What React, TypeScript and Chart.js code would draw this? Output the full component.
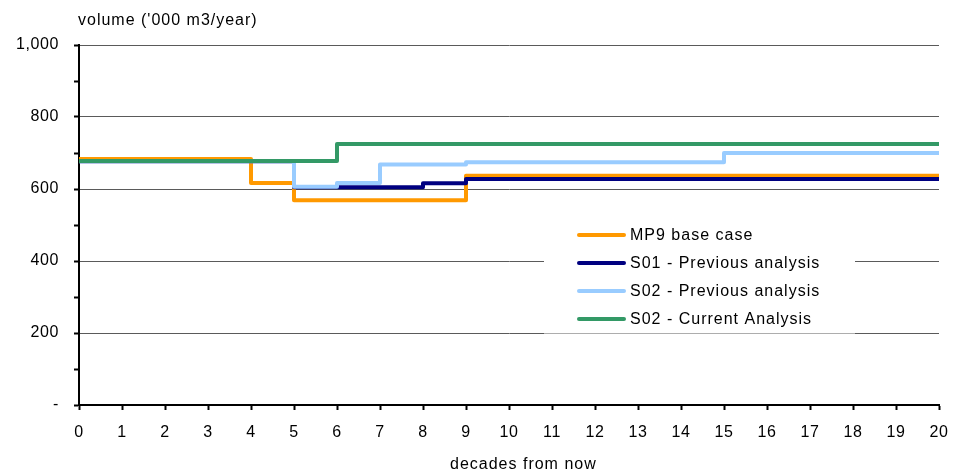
import React, { useEffect, useRef } from "react";
import { Chart, registerables } from "chart.js";

Chart.register(...registerables);

const decades = [0, 1, 2, 3, 4, 5, 6, 7, 8, 9, 10, 11, 12, 13, 14, 15, 16, 17, 18, 19, 20];
const seriesLabels = [
  "MP9 base case",
  "S01 - Previous analysis",
  "S02 - Previous analysis",
  "S02 - Current Analysis",
];
const mp9Base = [683, 683, 683, 683, 617, 569, 569, 569, 569, 637, 637, 637, 637, 637, 637, 637, 637, 637, 637, 637, 637];
const s01Prev = [677, 677, 677, 677, 677, 605, 605, 605, 616, 628, 628, 628, 628, 628, 628, 628, 628, 628, 628, 628, 628];
const s02Prev = [677, 677, 677, 677, 677, 606, 617, 668, 668, 674, 674, 674, 674, 674, 674, 700, 700, 700, 700, 700, 700];
const s02Curr = [678, 678, 678, 678, 678, 678, 725, 725, 725, 725, 725, 725, 725, 725, 725, 725, 725, 725, 725, 725, 725];
const seriesColors = ["#FF9900", "#000080", "#99CCFF", "#339966"];
const yTitle = "volume ('000 m3/year)";
const xTitle = "decades from now";

const FONT = "'Liberation Sans', Arial, sans-serif";

const spacingPlugin = {
  id: "spacing",
  beforeLayout(chart: any) {
    (chart.ctx as any).letterSpacing = "0.6px";
  },
  beforeDraw(chart: any) {
    (chart.ctx as any).letterSpacing = "0.6px";
  },
};

const overlayPlugin = {
  id: "overlay",
  afterDraw(chart: any) {
    const ctx = chart.ctx as CanvasRenderingContext2D;
    const area = chart.chartArea;
    ctx.save();
    (ctx as any).letterSpacing = "1px";
    // axis titles
    ctx.fillStyle = "#000";
    ctx.font = `16px ${FONT}`;
    ctx.textBaseline = "middle";
    ctx.textAlign = "left";
    ctx.fillText(yTitle, area.left - 1, 21);
    ctx.fillText(xTitle, 450, 465);

    // legend
    const bx = 544, by = 214, bw = 311, bh = 119;
    ctx.fillStyle = "#fff";
    ctx.fillRect(bx, by, bw, bh);
    ctx.fillStyle = "rgba(255,255,255,0.5)";
    ctx.fillRect(bx, by + bh, bw, 1);
    const ds = chart.data.datasets;
    ctx.textAlign = "left";
    for (let i = 0; i < ds.length; i++) {
      const y = 235 + i * 28;
      ctx.strokeStyle = ds[i].borderColor;
      ctx.lineWidth = 4;
      ctx.lineCap = "round";
      ctx.beginPath();
      ctx.moveTo(579, y);
      ctx.lineTo(624, y);
      ctx.stroke();
      ctx.fillStyle = "#000";
      ctx.font = `16px ${FONT}`;
      ctx.fillText(ds[i].label, 630, y + 1);
    }
    ctx.restore();
  },
};

export default function App() {
  const ref = useRef<HTMLCanvasElement>(null);
  useEffect(() => {
    document.body.style.margin = "0";
    const series = [mp9Base, s01Prev, s02Prev, s02Curr];
    const chart = new Chart(ref.current!, {
      type: "line",
      data: {
        labels: decades,
        datasets: series.map((vals, i) => ({
          label: seriesLabels[i],
          data: vals.map((v, j) => ({ x: decades[j], y: v })),
          borderColor: seriesColors[i],
          backgroundColor: seriesColors[i],
          borderWidth: 4,
          stepped: true,
          pointRadius: 0,
          borderJoinStyle: "round" as const,
          borderCapStyle: "round" as const,
          order: series.length - i,
          fill: false,
        })),
      },
      options: {
        responsive: false,
        animation: false,
        events: [],
        layout: { padding: { left: 0, right: 19, top: 45, bottom: 0 } },
        plugins: {
          legend: { display: false },
          title: { display: false },
          tooltip: { enabled: false },
        },
        font: { family: FONT },
        scales: {
          x: {
            type: "linear",
            min: 0,
            max: 20,
            afterFit: (s: any) => {
              s.height = 70;
              s.paddingLeft = 0;
              s.paddingRight = 0;
            },
            ticks: {
              stepSize: 1,
              autoSkip: false,
              color: "#000",
              padding: 13,
              maxRotation: 0,
              font: { size: 16, family: FONT },
            },
            grid: {
              drawOnChartArea: false,
              drawTicks: true,
              tickLength: 5,
              tickColor: "#000",
              tickWidth: 2,
              color: "#000",
            },
            border: { display: true, color: "#000", width: 2 },
          },
          y: {
            type: "linear",
            min: 0,
            max: 1000,
            afterFit: (s: any) => {
              s.width = 79;
              s.paddingTop = 0;
              s.paddingBottom = 0;
            },
            ticks: {
              stepSize: 100,
              autoSkip: false,
              color: "#000",
              padding: 15,
              font: { size: 16, family: FONT },
              callback: (v: any) => {
                const n = Number(v);
                if (n % 200 !== 0) return "";
                if (n === 0) return "-";
                return n.toLocaleString("en-US");
              },
            },
            grid: {
              drawTicks: true,
              tickLength: 5,
              tickWidth: 2,
              tickColor: "#000",
              lineWidth: 1,
              color: (c: any) =>
                c.tick && c.tick.value % 200 === 0 ? "#5a5a5a" : "rgba(0,0,0,0)",
            },
            border: { display: true, color: "#000", width: 2 },
          },
        },
      },
      plugins: [spacingPlugin, overlayPlugin],
    } as any);
    return () => chart.destroy();
  }, []);
  return (
    <div style={{ width: 958, height: 475 }}>
      <canvas ref={ref} width={958} height={475} />
    </div>
  );
}
